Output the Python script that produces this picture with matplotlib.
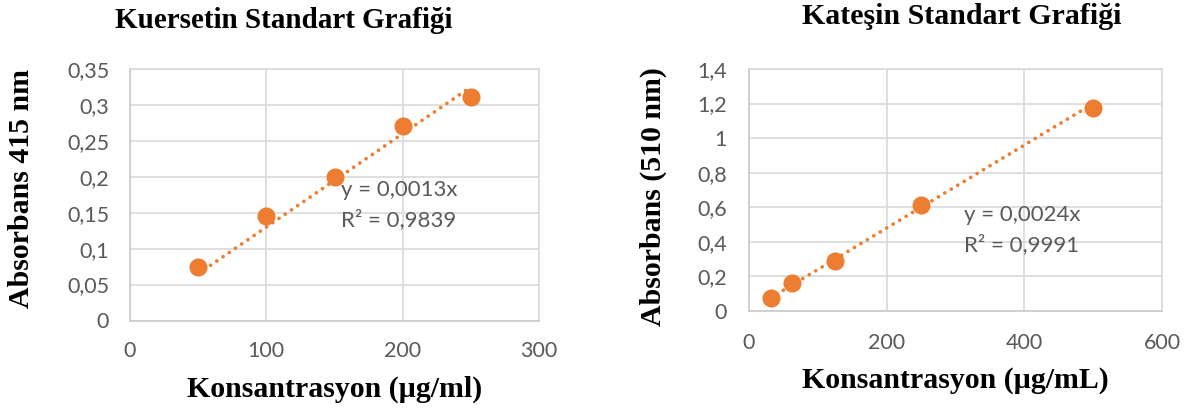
import numpy as np
import matplotlib.pyplot as plt
from matplotlib.ticker import MultipleLocator, FuncFormatter

# Kuersetin standard
kuer_conc = [50, 100, 150, 200, 250]
kuer_abs = [0.075, 0.145, 0.200, 0.271, 0.311]
kuer_slope = 0.0013
kuer_eq = "y = 0,0013x"
kuer_r2 = "R² = 0,9839"

# Kateşin standard
kat_conc = [31.25, 62.5, 125, 250, 500]
kat_abs = [0.077, 0.160, 0.289, 0.613, 1.173]
kat_slope = 0.0024
kat_eq = "y = 0,0024x"
kat_r2 = "R² = 0,9991"

W, H = 1187, 409
ORANGE = "#ED7D31"
GRID = "#d9d9d9"
TXT = "#595959"
SERIF = "Liberation Serif"
SANS = "Lato"


def px_box(x0, x1, ytop, ybot):
    # axes rectangle in figure fractions from pixel edges
    return [x0 / W, 1 - ybot / H, (x1 - x0) / W, (ybot - ytop) / H]


def comma_fmt(v, pos):
    return f"{round(v, 4):g}".replace(".", ",")


def draw_panel(ax, conc, absb, slope, eq, r2, xmax, xstep, ymax, ystep,
               eq_xy, pad):
    # trendline through origin over the data range
    xs = np.array([conc[0], conc[-1]])
    ax.plot(xs, slope * xs, color=ORANGE, lw=2.7,
            linestyle=(0, (0.01, 2.0)), dash_capstyle="round", zorder=2)
    ax.plot(conc, absb, "o", color=ORANGE, ms=12, zorder=3)

    ax.set_xlim(0, xmax)
    ax.set_ylim(0, ymax)
    ax.xaxis.set_major_locator(MultipleLocator(xstep))
    ax.yaxis.set_major_locator(MultipleLocator(ystep))
    ax.yaxis.set_major_formatter(FuncFormatter(comma_fmt))
    ax.grid(color=GRID, lw=1.2, zorder=0)
    ax.set_axisbelow(True)
    for side in ax.spines:
        ax.spines[side].set_color(GRID)
        ax.spines[side].set_linewidth(1.2)
    ax.spines["left"].set_color("#c9c9c9")
    ax.spines["bottom"].set_color("#c9c9c9")
    ax.tick_params(length=0, pad=pad, labelsize=15.5, labelcolor=TXT)
    for lab in ax.get_xticklabels() + ax.get_yticklabels():
        lab.set_fontfamily(SANS)

    ax.text(eq_xy[0], eq_xy[1], eq, fontsize=16, color=TXT,
            family=SANS, va="center", ha="left")
    ax.text(eq_xy[0], eq_xy[2], r2, fontsize=16, color=TXT,
            family=SANS, va="center", ha="left")


fig = plt.figure(figsize=(W / 100, H / 100), dpi=100)

ax1 = fig.add_axes(px_box(130, 539, 69, 320.5))
draw_panel(ax1, kuer_conc, kuer_abs, kuer_slope, kuer_eq, kuer_r2,
           300, 100, 0.35, 0.05, (155, 0.182, 0.140), 15)

ax2 = fig.add_axes(px_box(749, 1162, 69, 311))
draw_panel(ax2, kat_conc, kat_abs, kat_slope, kat_eq, kat_r2,
           600, 200, 1.4, 0.2, (312, 0.555, 0.382), 16)

# Titles and axis labels (Times-like bold)
lab = dict(family=SERIF, fontweight="bold", color="black",
           ha="center", va="center")
fig.text(284 / W, 1 - 21 / H, "Kuersetin Standart Grafiği", fontsize=21, **lab)
fig.text(962 / W, 1 - 16 / H, "Kateşin Standart Grafiği", fontsize=21.5, **lab)
fig.text(22 / W, 1 - 188 / H, "Absorbans 415 nm", fontsize=21.5,
         rotation=90, **lab)
fig.text(653 / W, 1 - 197 / H, "Absorbans (510 nm)", fontsize=21.5,
         rotation=90, **lab)
fig.text(335 / W, 1 - 389 / H, "Konsantrasyon (µg/ml)", fontsize=21.5, **lab)
fig.text(955 / W, 1 - 381 / H, "Konsantrasyon (µg/mL)", fontsize=21.5, **lab)

fig.savefig("out.png", dpi=100)
